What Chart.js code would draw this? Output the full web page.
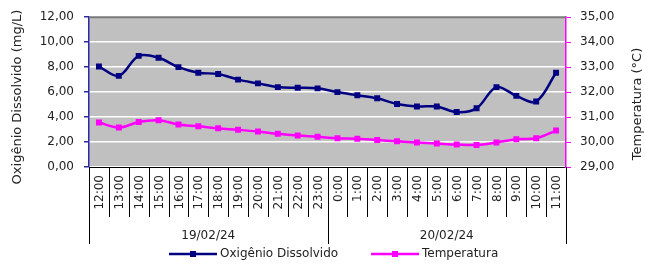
<!DOCTYPE html>
<html>
<head>
<meta charset="utf-8">
<script src="https://cdn.jsdelivr.net/npm/chart.js@4.4.1/dist/chart.umd.min.js"></script>
<style>
  html, body { margin: 0; padding: 0; background: #fff; }
  #wrap { width: 645px; height: 266px; }
</style>
</head>
<body>
<div id="wrap"><canvas id="myChart" width="645" height="266"></canvas></div>
<script>
// horas das leituras
const horas = ["12:00","13:00","14:00","15:00","16:00","17:00","18:00","19:00","20:00","21:00","22:00","23:00",
               "0:00","1:00","2:00","3:00","4:00","5:00","6:00","7:00","8:00","9:00","10:00","11:00"];
const dias = ["19/02/24", "20/02/24"];
const horasPorDia = [12, 12];

const oxigenio = [8.05, 7.3, 8.9, 8.75, 8.0, 7.55, 7.45, 7.0, 6.7, 6.4, 6.35, 6.3,
                  6.0, 5.75, 5.5, 5.05, 4.85, 4.85, 4.4, 4.7, 6.4, 5.7, 5.25, 7.55];
const temperatura = [30.78, 30.58, 30.8, 30.87, 30.7, 30.63, 30.55, 30.49, 30.42, 30.33, 30.26, 30.21,
                     30.15, 30.13, 30.08, 30.03, 29.98, 29.94, 29.9, 29.88, 29.98, 30.11, 30.15, 30.46];

const fonte = "DejaVu Sans";
const corTexto = "#222";
const fmt = (v) => v.toFixed(2).replace(".", ",");

// fundo cinza, eixo x em dois niveis, titulos e legenda
const extras = {
  id: "extras",
  beforeDraw(chart) {
    const { ctx, chartArea: a } = chart;
    ctx.save();
    ctx.fillStyle = "#c0c0c0";
    ctx.fillRect(a.left, a.top, a.right - a.left, a.bottom - a.top);
    ctx.restore();
  },
  afterDraw(chart) {
    const { ctx, chartArea: a } = chart;
    const x = chart.scales.x;
    const n = horas.length;
    const passo = (a.right - a.left) / n;
    ctx.save();

    // borda superior
    ctx.strokeStyle = "#7a7a7a";
    ctx.lineWidth = 2;
    ctx.beginPath();
    ctx.moveTo(a.left, a.top);
    ctx.lineTo(a.right, a.top);
    ctx.stroke();

    // marcas entre categorias
    ctx.strokeStyle = "#000";
    ctx.lineWidth = 1;
    let limites = [0];
    let acc = 0;
    horasPorDia.forEach((h) => { acc += h; limites.push(acc); });
    for (let i = 0; i <= n; i++) {
      const px = Math.round(x.left + i * passo) + 0.5;
      const fim = limites.includes(i) ? a.bottom + 77 : a.bottom + 50;
      ctx.beginPath();
      ctx.moveTo(px, a.bottom);
      ctx.lineTo(px, fim);
      ctx.stroke();
    }

    // rotulos das horas
    ctx.fillStyle = corTexto;
    ctx.font = "12px '" + fonte + "'";
    ctx.textAlign = "right";
    ctx.textBaseline = "middle";
    horas.forEach((h, i) => {
      const px = x.getPixelForValue(i);
      ctx.save();
      ctx.translate(px + 1, a.bottom + 8);
      ctx.rotate(-Math.PI / 2);
      ctx.fillText(h, 0, 0);
      ctx.restore();
    });

    // rotulos dos dias
    ctx.textAlign = "center";
    for (let d = 0; d < dias.length; d++) {
      const x0 = x.left + limites[d] * passo;
      const x1 = x.left + limites[d + 1] * passo;
      ctx.fillText(dias[d], (x0 + x1) / 2, a.bottom + 69);
    }

    // titulos dos eixos
    ctx.font = "13px '" + fonte + "'";
    ctx.save();
    ctx.translate(18, 97);
    ctx.rotate(-Math.PI / 2);
    ctx.fillText("Oxigênio Dissolvido (mg/L)", 0, 0);
    ctx.restore();
    ctx.save();
    ctx.translate(638, 104);
    ctx.rotate(-Math.PI / 2);
    ctx.fillText("Temperatura (°C)", 0, 0);
    ctx.restore();

    // legenda
    ctx.font = "12px '" + fonte + "'";
    ctx.textAlign = "left";
    const ly = 254;
    let lx = 169;
    chart.data.datasets.forEach((ds, k) => {
      ctx.strokeStyle = ds.borderColor;
      ctx.lineWidth = 2.5;
      ctx.beginPath();
      ctx.moveTo(lx, ly);
      ctx.lineTo(lx + 48, ly);
      ctx.stroke();
      ctx.fillStyle = ds.borderColor;
      ctx.fillRect(lx + 21, ly - 3, 6, 6);
      ctx.fillStyle = corTexto;
      ctx.fillText(ds.label, lx + 51, ly);
      lx += 202;
    });
    ctx.restore();
  }
};

const ctx = document.getElementById("myChart").getContext("2d");
const myChart = new Chart(ctx, {
  type: "line",
  data: {
    labels: horas,
    datasets: [
      {
        label: "Oxigênio Dissolvido",
        data: oxigenio,
        yAxisID: "y",
        borderColor: "#000080",
        backgroundColor: "#000080",
        borderWidth: 2.5,
        pointStyle: "rect",
        pointRadius: 4.2,
        pointBorderWidth: 0,
        tension: 0.35,
      },
      {
        label: "Temperatura",
        data: temperatura,
        yAxisID: "y1",
        borderColor: "#ff00ff",
        backgroundColor: "#ff00ff",
        borderWidth: 2.5,
        pointStyle: "rect",
        pointRadius: 4.2,
        pointBorderWidth: 0,
        tension: 0.35,
      },
    ],
  },
  options: {
    responsive: false,
    animation: false,
    layout: { padding: { top: 9, left: 0, right: 0, bottom: 0 } },
    plugins: {
      legend: { display: false },
      tooltip: { enabled: false },
    },
    scales: {
      x: {
        type: "category",
        offset: true,
        grid: { display: false },
        border: { display: true, color: "#000", width: 1 },
        ticks: { display: false },
        afterFit(scale) { scale.height = 99; },
      },
      y: {
        position: "left",
        min: 0,
        max: 12,
        grid: { color: "#ffffff", lineWidth: 1.5, tickColor: "#2a2aa8", tickLength: 5 },
        border: { color: "#2a2aa8", width: 1.5 },
        ticks: {
          stepSize: 2,
          padding: 10,
          color: corTexto,
          font: { family: fonte, size: 12 },
          callback: (v) => fmt(v),
        },
        afterFit(scale) { scale.width = 89; },
      },
      y1: {
        position: "right",
        min: 29,
        max: 35,
        grid: { drawOnChartArea: false, color: "#ff00ff", tickColor: "#ff00ff", tickLength: 5 },
        border: { color: "#ff00ff", width: 1.5 },
        ticks: {
          stepSize: 1,
          padding: 9,
          color: corTexto,
          font: { family: fonte, size: 12 },
          callback: (v) => fmt(v),
        },
        afterFit(scale) { scale.width = 79; },
      },
    },
  },
  plugins: [extras],
});
</script>
</body>
</html>
